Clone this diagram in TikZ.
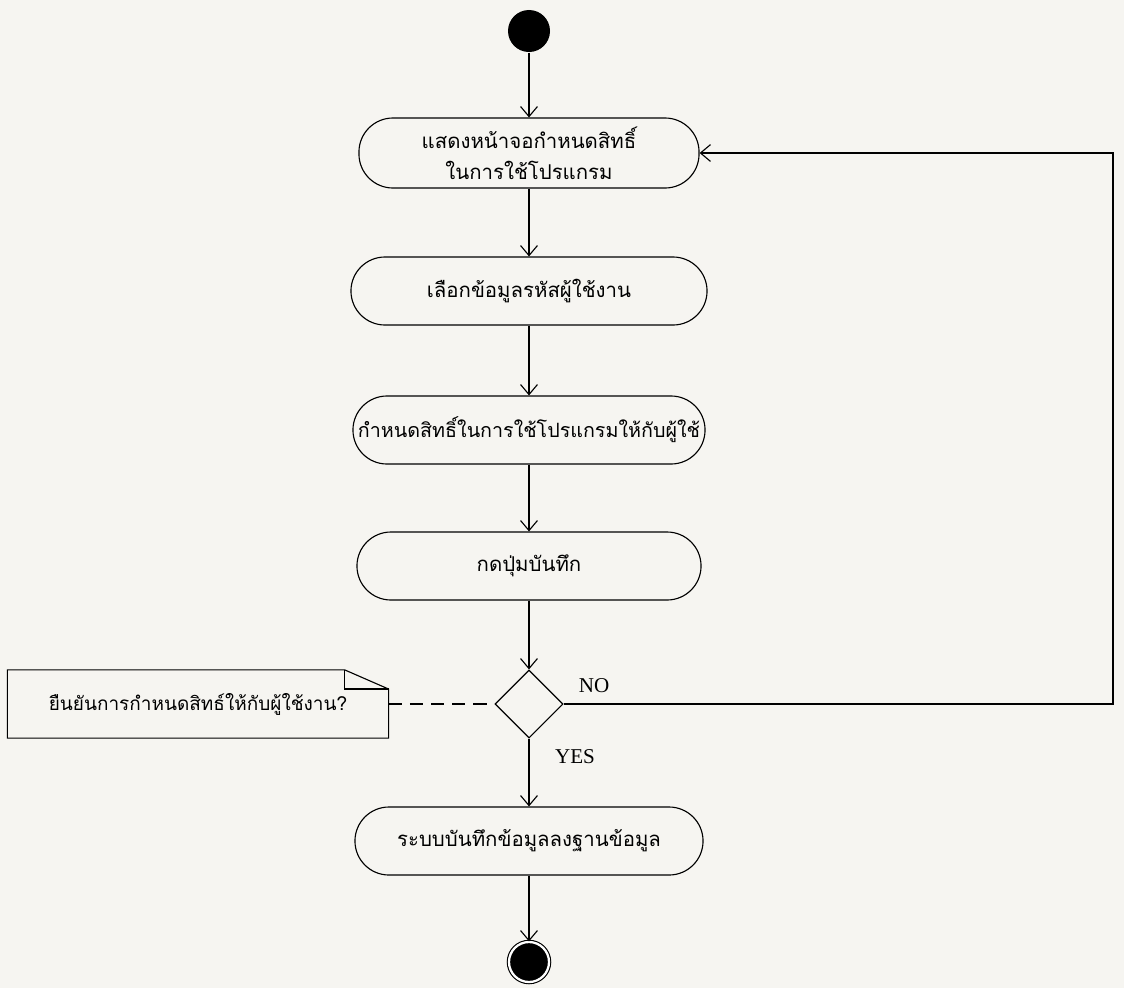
\documentclass[tikz,border=0pt]{standalone}
\usepackage{fontspec}
\setmainfont{Liberation Serif}
\newfontfamily\thaifont[Script=Thai]{Loma}
\usetikzlibrary{arrows.meta,shapes.geometric,positioning}
\definecolor{paper}{RGB}{246,245,241}

\begin{document}
\begin{tikzpicture}[x=0.025cm,y=-0.025cm,% one unit = one pixel, y runs down
        line width=0.8pt,
        activity/.style={draw,rounded corners=0.85cm,minimum width=8.6cm,minimum height=1.7cm,%
            font=\thaifont\fontsize{14.5}{22}\selectfont,align=center},
        decision/.style={draw,diamond,minimum width=1.7cm,minimum height=1.7cm,inner sep=0pt},
        flow/.style={-{Straight Barb[length=0.25cm,width=0.42cm]}},
        lbl/.style={font=\fontsize{15}{18}\selectfont}]
\fill[paper] (0,0) rectangle (1124,988);
\useasboundingbox (0,0) rectangle (1124,988);

\node[circle,fill=black,minimum size=1.05cm] (start) at (529,31) {};
\node[activity,minimum height=1.75cm,minimum width=8.5cm] (show) at (529,153) {แสดงหน้าจอกำหนดสิทธิ์\\ในการใช้โปรแกรม};
\node[activity,minimum width=8.9cm] (pick) at (529,291) {เลือกข้อมูลรหัสผู้ใช้งาน};
\node[activity,font=\thaifont\fontsize{14}{22}\selectfont,minimum width=8.8cm] (grant) at (529,430) {กำหนดสิทธิ์ในการใช้โปรแกรมให้กับผู้ใช้};
\node[activity] (press) at (529,566) {กดปุ่มบันทึก};
\node[decision] (dec) at (529,704) {};
\node[activity,minimum width=8.7cm] (store) at (529,841) {ระบบบันทึกข้อมูลลงฐานข้อมูล};
\node[circle,fill=black,draw,double=white,double distance=1.6pt,minimum size=1cm] (stop) at (529,962) {};

% note with folded corner
\node[minimum width=9.5cm,minimum height=1.68cm,font=\thaifont\fontsize{13.5}{16}\selectfont] (note) at (198,704) {ยืนยันการกำหนดสิทธ์ให้กับผู้ใช้งาน?};
\draw (note.south west) -- (note.north west) -- ([xshift=-1.1cm]note.north east)%
 -- ([yshift=-0.48cm]note.north east) -- (note.south east) -- cycle;
\draw ([xshift=-1.1cm]note.north east) |- ([yshift=-0.48cm]note.north east);
\draw[dashed,dash pattern=on 0.33cm off 0.2cm] (note.east) -- (dec.west);

\foreach \a/\b in {start/show,show/pick,pick/grant,grant/press,press/dec,dec/store,store/stop}{ % main flow
\draw[flow] (\a) -- (\b);
}

\coordinate (back) at (1113,704);
\draw[flow] (dec.east) -- (back) |- (show.east);
\node[lbl] (no) at (594,686) {NO};
\node[lbl] (yes) at (575,757) {YES};

\end{tikzpicture}
\end{document}
